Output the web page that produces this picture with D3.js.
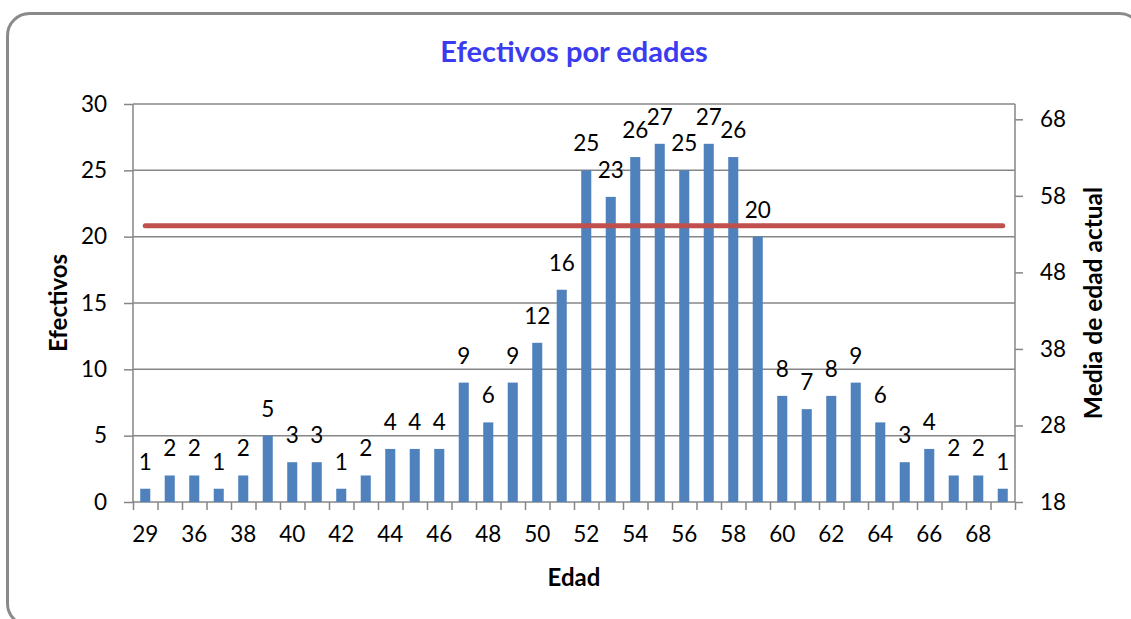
<!DOCTYPE html>
<html>
<head>
<meta charset="utf-8">
<script src="https://d3js.org/d3.v7.min.js"></script>
<style>
  body { margin: 0; background: #fff; }
  svg text { font-family: Lato, "Open Sans", sans-serif; fill: #000; }
</style>
</head>
<body>
<svg id="chart" width="1131" height="619"></svg>
<script>
// data
var edades = [29, 35, 36, 37, 38, 39, 40, 41, 42, 43, 44, 45, 46, 47, 48, 49, 50, 51,
  52, 53, 54, 55, 56, 57, 58, 59, 60, 61, 62, 63, 64, 65, 66, 67, 68, 69];
var efectivos = [1, 2, 2, 1, 2, 5, 3, 3, 1, 2, 4, 4, 4, 9, 6, 9, 12, 16,
  25, 23, 26, 27, 25, 27, 26, 20, 8, 7, 8, 9, 6, 3, 4, 2, 2, 1];
var mediaEdad = 54.1;
var leftTicks = [0, 5, 10, 15, 20, 25, 30];
var rightTicks = [18, 28, 38, 48, 58, 68];

var svg = d3.select("#chart");
var L = 133, R = 1015, T = 104, B = 502;
var grey = "#868686";

// frame
svg.append("rect")
  .attr("x", 7.5).attr("y", 13.5)
  .attr("width", 1134).attr("height", 612)
  .attr("rx", 22).attr("ry", 22)
  .attr("fill", "#fff")
  .attr("stroke", "#8a8a8a").attr("stroke-width", 3);

var x = d3.scaleBand().domain(edades).range([L, R]).paddingInner(0.59).paddingOuter(0.295);
var xb = d3.scaleLinear().domain([0, edades.length]).range([L, R]);
var y = d3.scaleLinear().domain([0, 30]).range([B, T]);
var y2 = d3.scaleLinear().domain([18, 70]).range([B, T]);

// gridlines
svg.append("g").selectAll("line").data(leftTicks.slice(1)).enter().append("line")
  .attr("x1", L).attr("x2", R)
  .attr("y1", function(d) { return y(d); }).attr("y2", function(d) { return y(d); })
  .attr("stroke", grey).attr("stroke-width", 1.5);

// left axis
var ax = svg.append("g").attr("transform", "translate(" + L + ",0)")
  .call(d3.axisLeft(y).tickValues(leftTicks).tickSize(9).tickPadding(17));
ax.select(".domain").attr("stroke", grey).attr("stroke-width", 1.5).attr("d", "M0," + B + "V" + T);
ax.selectAll(".tick line").attr("stroke", grey).attr("stroke-width", 1.5);
ax.selectAll("text").style("font-size", "22.5px").attr("fill", "#000");

// right axis
var ax2 = svg.append("g").attr("transform", "translate(" + R + ",0)")
  .call(d3.axisRight(y2).tickValues(rightTicks).tickSize(8).tickPadding(17));
ax2.select(".domain").attr("stroke", grey).attr("stroke-width", 1.5).attr("d", "M0," + B + "V" + T);
ax2.selectAll(".tick line").attr("stroke", grey).attr("stroke-width", 1.5);
ax2.selectAll("text").style("font-size", "22.5px").attr("fill", "#000");

// bottom axis: tick marks on category edges
var axb = svg.append("g").attr("transform", "translate(0," + B + ")")
  .call(d3.axisBottom(xb).tickValues(d3.range(0, edades.length + 1)).tickSize(8).tickFormat(""));
axb.select(".domain").attr("stroke", grey).attr("stroke-width", 1.5).attr("d", "M" + L + ",0H" + R);
axb.selectAll(".tick line").attr("stroke", grey).attr("stroke-width", 1.5);

// bottom labels, every other category
var axl = svg.append("g").attr("transform", "translate(0," + B + ")")
  .call(d3.axisBottom(x).tickSize(0).tickPadding(24)
    .tickFormat(function(d, i) { return i % 2 === 0 ? d : ""; }));
axl.select(".domain").remove();
axl.selectAll("text").style("font-size", "22.5px").attr("fill", "#000");

// bars
svg.append("g").selectAll("rect").data(efectivos).enter().append("rect")
  .attr("x", function(d, i) { return x(edades[i]); })
  .attr("y", function(d) { return y(d); })
  .attr("width", x.bandwidth())
  .attr("height", function(d) { return B - y(d); })
  .attr("fill", "#4F81BD");

// mean line
svg.append("line")
  .attr("x1", x(edades[0]) + x.bandwidth() / 2)
  .attr("x2", x(edades[edades.length - 1]) + x.bandwidth() / 2)
  .attr("y1", y2(mediaEdad)).attr("y2", y2(mediaEdad))
  .attr("stroke", "#C0504D").attr("stroke-width", 5).attr("stroke-linecap", "round");

// data labels
svg.append("g").selectAll("text").data(efectivos).enter().append("text")
  .attr("x", function(d, i) { return x(edades[i]) + x.bandwidth() / 2; })
  .attr("y", function(d) { return y(d) - 19; })
  .attr("text-anchor", "middle")
  .style("font-size", "22.5px")
  .text(function(d) { return d; });

// titles
svg.append("text").attr("x", 574).attr("y", 62).attr("text-anchor", "middle")
  .style("font-size", "29px").style("font-weight", "bold").style("fill", "#3B3BEF")
  .text("Efectivos por edades");
svg.append("text").attr("x", 574).attr("y", 586).attr("text-anchor", "middle")
  .style("font-size", "24px").style("font-weight", "bold")
  .text("Edad");
svg.append("text").attr("transform", "translate(67,303) rotate(-90)").attr("text-anchor", "middle")
  .style("font-size", "24px").style("font-weight", "bold")
  .text("Efectivos");
svg.append("text").attr("transform", "translate(1102,303) rotate(-90)").attr("text-anchor", "middle")
  .style("font-size", "24.5px").style("font-weight", "bold")
  .text("Media de edad actual");
</script>
</body>
</html>
